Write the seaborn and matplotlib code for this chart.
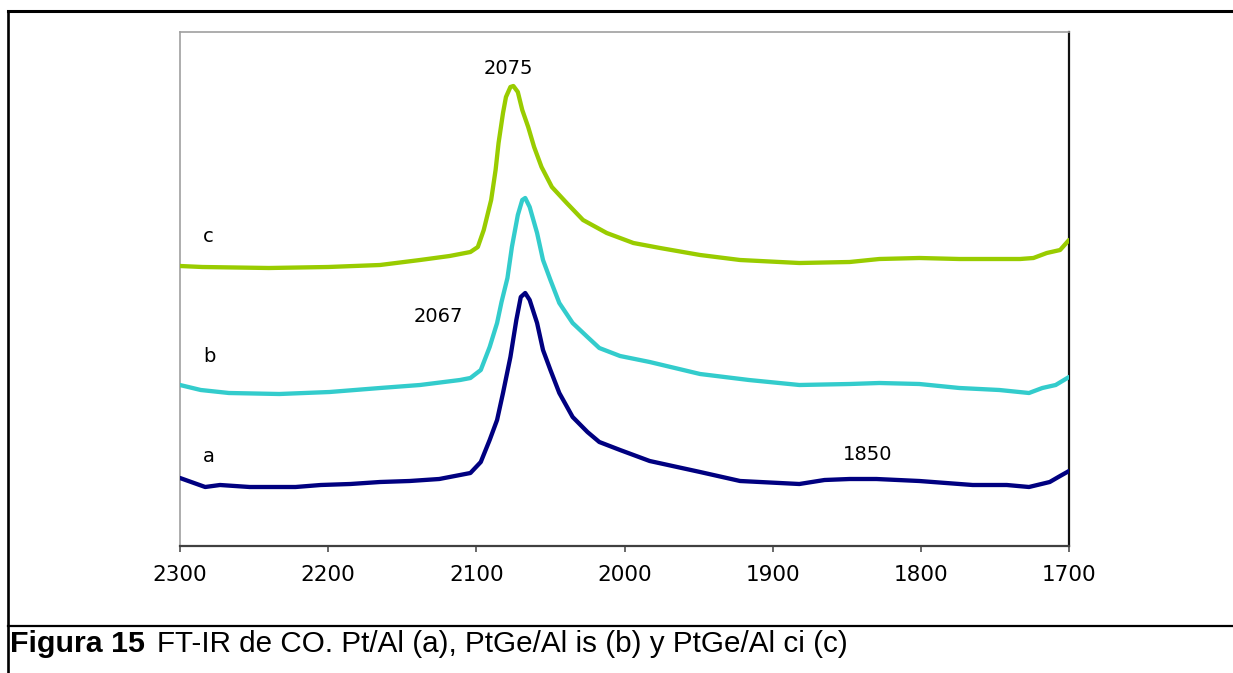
import matplotlib
matplotlib.use("Agg")
import matplotlib.pyplot as plt
from matplotlib import font_manager
from matplotlib.lines import Line2D
import pandas as pd
import seaborn as sns

# Wavenumbers (cm-1) and absorbance (a.u., stacked) for each catalyst
wn_a = [2300, 2283, 2273, 2253, 2222, 2205, 2185, 2165, 2145, 2125, 2104, 2097,
        2091, 2086, 2082, 2077, 2073, 2070, 2067, 2064, 2059, 2055, 2050, 2044,
        2035, 2025, 2017, 2003, 1983, 1949, 1922, 1882, 1865, 1848, 1830, 1801,
        1792, 1765, 1742, 1727, 1713, 1706, 1700]
abs_a = [0.68, 0.59, 0.61, 0.59, 0.59, 0.61, 0.62, 0.64, 0.65, 0.67, 0.73, 0.84,
         1.06, 1.26, 1.53, 1.89, 2.26, 2.49, 2.53, 2.46, 2.23, 1.96, 1.76, 1.53,
         1.29, 1.14, 1.04, 0.96, 0.85, 0.74, 0.65, 0.62, 0.66, 0.67, 0.67, 0.65,
         0.64, 0.61, 0.61, 0.59, 0.64, 0.70, 0.75]

wn_b = [2300, 2286, 2267, 2233, 2199, 2165, 2138, 2111, 2104, 2097, 2091, 2086,
        2083, 2079, 2076, 2072, 2069, 2067, 2064, 2059, 2055, 2050, 2044, 2035,
        2025, 2017, 2003, 1983, 1949, 1916, 1882, 1848, 1828, 1801, 1774, 1747,
        1727, 1718, 1709, 1700]
abs_b = [1.61, 1.56, 1.53, 1.52, 1.54, 1.58, 1.61, 1.66, 1.68, 1.76, 1.99, 2.23,
         2.44, 2.68, 2.99, 3.31, 3.46, 3.48, 3.39, 3.13, 2.86, 2.66, 2.43, 2.23,
         2.09, 1.98, 1.90, 1.84, 1.72, 1.66, 1.61, 1.62, 1.63, 1.62, 1.58, 1.56,
         1.53, 1.58, 1.61, 1.69]

wn_c = [2300, 2285, 2240, 2200, 2165, 2138, 2118, 2104, 2099, 2095, 2090, 2087,
        2085, 2082, 2080, 2077, 2075, 2072, 2069, 2065, 2061, 2056, 2049, 2039,
        2028, 2012, 1994, 1976, 1949, 1922, 1882, 1848, 1828, 1801, 1774, 1747,
        1733, 1724, 1715, 1706, 1700]
abs_c = [2.80, 2.79, 2.78, 2.79, 2.81, 2.86, 2.90, 2.94, 2.99, 3.16, 3.46, 3.76,
         4.03, 4.33, 4.49, 4.59, 4.60, 4.54, 4.36, 4.19, 3.99, 3.79, 3.59, 3.43,
         3.26, 3.13, 3.03, 2.98, 2.91, 2.86, 2.83, 2.84, 2.87, 2.88, 2.87, 2.87,
         2.87, 2.88, 2.93, 2.96, 3.06]

series_labels = ["a", "b", "c"]
series_colors = ["#000080", "#33CCCC", "#99CC00"]
# curve letter positions (wavenumber, absorbance)
letter_pos = [(2284.5, 0.89), (2284.5, 1.89), (2284.5, 3.10)]

peak_labels = ["2075", "2067", "1850"]
peak_label_pos = [(2078.6, 4.77), (2125.9, 2.29), (1835.7, 0.91)]

x_ticks = [2300, 2200, 2100, 2000, 1900, 1800, 1700]
caption_bold = "Figura 15"
caption_rest = "FT-IR de CO. Pt/Al (a), PtGe/Al is (b) y PtGe/Al ci (c)"

sns.set_style("white")
plt.rcParams["font.family"] = ["DejaVu Sans"]

W, H = 1233, 673
fig = plt.figure(figsize=(W / 100, H / 100), dpi=100)
ax = fig.add_axes([180 / W, 1 - 546 / H, (1069 - 180) / W, (546 - 32) / H])

frames = []
for lab, wn, ab in zip(series_labels, [wn_a, wn_b, wn_c], [abs_a, abs_b, abs_c]):
    frames.append(pd.DataFrame({"wn": wn, "abs": ab, "muestra": lab}))
df = pd.concat(frames, ignore_index=True)

for lab, col in zip(series_labels, series_colors):
    sub = df[df["muestra"] == lab]
    sns.lineplot(data=sub, x="wn", y="abs", color=col, lw=3.1, sort=False,
                 estimator=None, ax=ax, legend=False,
                 solid_capstyle="round", solid_joinstyle="round")

ax.set_xlim(2300, 1700)
ax.set_ylim(0, 5.14)
ax.set_xticks(x_ticks)
ax.set_xticklabels([str(t) for t in x_ticks])
ax.set_yticks([])
ax.set_xlabel("")
ax.set_ylabel("")
ax.tick_params(axis="x", direction="out", length=4.5, width=1.1, color="#404040",
               labelsize=15.5, labelcolor="black", pad=9, bottom=True)

for side in ["left", "top"]:
    ax.spines[side].set_color("#a0a0a0")
    ax.spines[side].set_linewidth(1.2)
ax.spines["right"].set_color("#111111")
ax.spines["right"].set_linewidth(1.6)
ax.spines["bottom"].set_color("#404040")
ax.spines["bottom"].set_linewidth(1.6)
for s in ax.spines.values():
    s.set_visible(True)
    s.set_zorder(0.5)

for lab, (x, y) in zip(series_labels, letter_pos):
    ax.text(x, y, lab, ha="left", va="center", fontsize=14, color="black")
for lab, (x, y) in zip(peak_labels, peak_label_pos):
    ax.text(x, y, lab, ha="center", va="center", fontsize=14, color="black")

# page frame around the figure and caption
def fig_line(x0, y0, x1, y1, lw):
    fig.add_artist(Line2D([x0 / W, x1 / W], [1 - y0 / H, 1 - y1 / H],
                          transform=fig.transFigure, color="black", lw=lw,
                          solid_capstyle="projecting"))

fig_line(7.5, 10.5, W + 5, 10.5, 2.2)
fig_line(7.5, 10.5, 7.5, H + 5, 1.9)
fig_line(7.5, 626, W + 5, 626, 1.6)

# caption, sized to its line width
available = {f.name for f in font_manager.fontManager.ttflist}
cap_font = "Liberation Sans"
for cand in ["Liberation Sans Narrow", "DejaVu Sans Condensed"]:
    if cand in available:
        cap_font = cand
        break

renderer = fig.canvas.get_renderer()

def fitted_text(x_px, text, width_px, weight):
    t = fig.text(x_px / W, 1 - 652 / H, text, ha="left", va="baseline",
                 fontsize=18, family=[cap_font, "DejaVu Sans"], weight=weight,
                 color="black")
    w = t.get_window_extent(renderer).width
    t.set_fontsize(min(18 * width_px / w, 22))
    return t

fitted_text(10, caption_bold, 135, "bold")
fitted_text(157, caption_rest, 690, "normal")

fig.savefig("out.png", dpi=100)
